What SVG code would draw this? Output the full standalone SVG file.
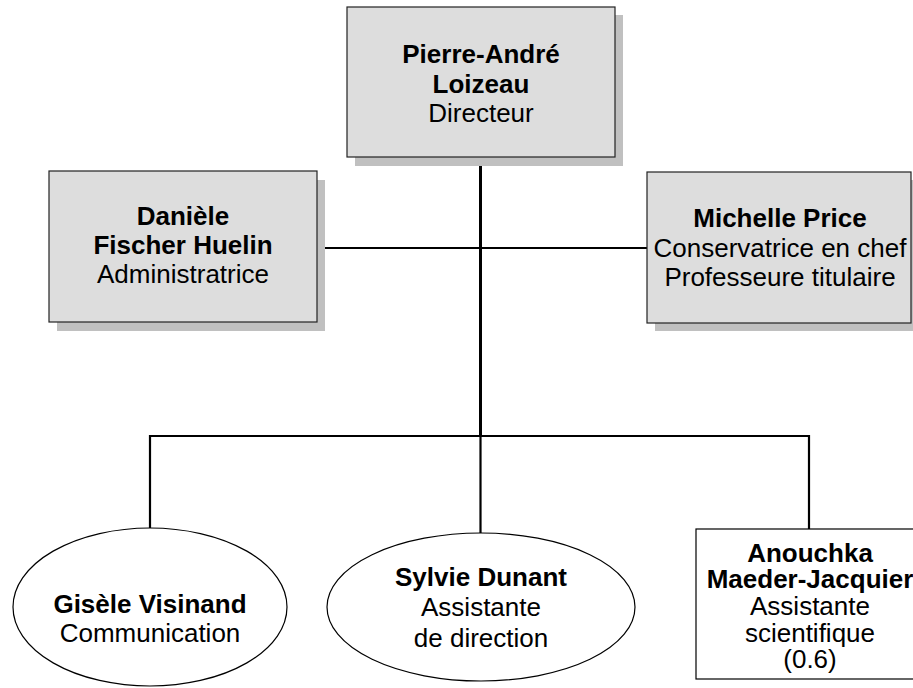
<svg xmlns="http://www.w3.org/2000/svg" width="913" height="688" viewBox="0 0 913 688">
<style>
.box{fill:#dddddd;stroke:#222;stroke-width:1.2}
.shadow{fill:#c0c0c0}
.wbox{fill:#fff;stroke:#000;stroke-width:1.2}
.ell{fill:#fff;stroke:#000;stroke-width:1.2}
text{font-family:"Liberation Sans",Arial,sans-serif;font-size:26px;fill:#000;text-anchor:middle}
.b{font-weight:bold}
.conn{stroke:#000;stroke-width:2.2;fill:none}
</style>
<rect width="913" height="688" fill="#fff"/>
<g id="connectors">
<line class="conn" x1="480.5" y1="157" x2="480.5" y2="436" style="stroke-width:3"/>
<line class="conn" x1="317" y1="248" x2="647" y2="248"/>
<polyline class="conn" points="150,528 150,436 809,436 809,529"/>
<line class="conn" x1="480.5" y1="436" x2="480.5" y2="533"/>
</g>
<g id="n-director">
<rect class="shadow" x="355" y="15" width="268" height="151"/>
<rect class="box" x="347" y="7" width="268" height="150"/>
<text x="481" y="63" class="b">Pierre-André</text>
<text x="481" y="93" class="b">Loizeau</text>
<text x="481" y="122">Directeur</text>
</g>
<g id="n-admin">
<rect class="shadow" x="57" y="180" width="268" height="151"/>
<rect class="box" x="49" y="171" width="268" height="151"/>
<text x="183" y="225" class="b">Danièle</text>
<text x="183" y="254" class="b">Fischer Huelin</text>
<text x="183" y="283">Administratrice</text>
</g>
<g id="n-conservatrice">
<rect class="shadow" x="655" y="180" width="265" height="151"/>
<rect class="box" x="647" y="172" width="264" height="151"/>
<text x="780" y="227" class="b">Michelle Price</text>
<text x="780" y="257">Conservatrice en chef</text>
<text x="780" y="286">Professeure titulaire</text>
</g>
<g id="n-communication">
<ellipse class="ell" cx="150" cy="607" rx="137" ry="79"/>
<text x="150" y="613" class="b">Gisèle Visinand</text>
<text x="150" y="642">Communication</text>
</g>
<g id="n-assistante">
<ellipse class="ell" cx="481" cy="607" rx="154" ry="74"/>
<text x="481" y="586" class="b">Sylvie Dunant</text>
<text x="481" y="616">Assistante</text>
<text x="481" y="647">de direction</text>
</g>
<g id="n-scientifique">
<rect class="wbox" x="696" y="529" width="228" height="150"/>
<text x="810" y="562" class="b">Anouchka</text>
<text x="810" y="588" class="b">Maeder-Jacquier</text>
<text x="810" y="615">Assistante</text>
<text x="810" y="642">scientifique</text>
<text x="810" y="668">(0.6)</text>
</g>
</svg>
